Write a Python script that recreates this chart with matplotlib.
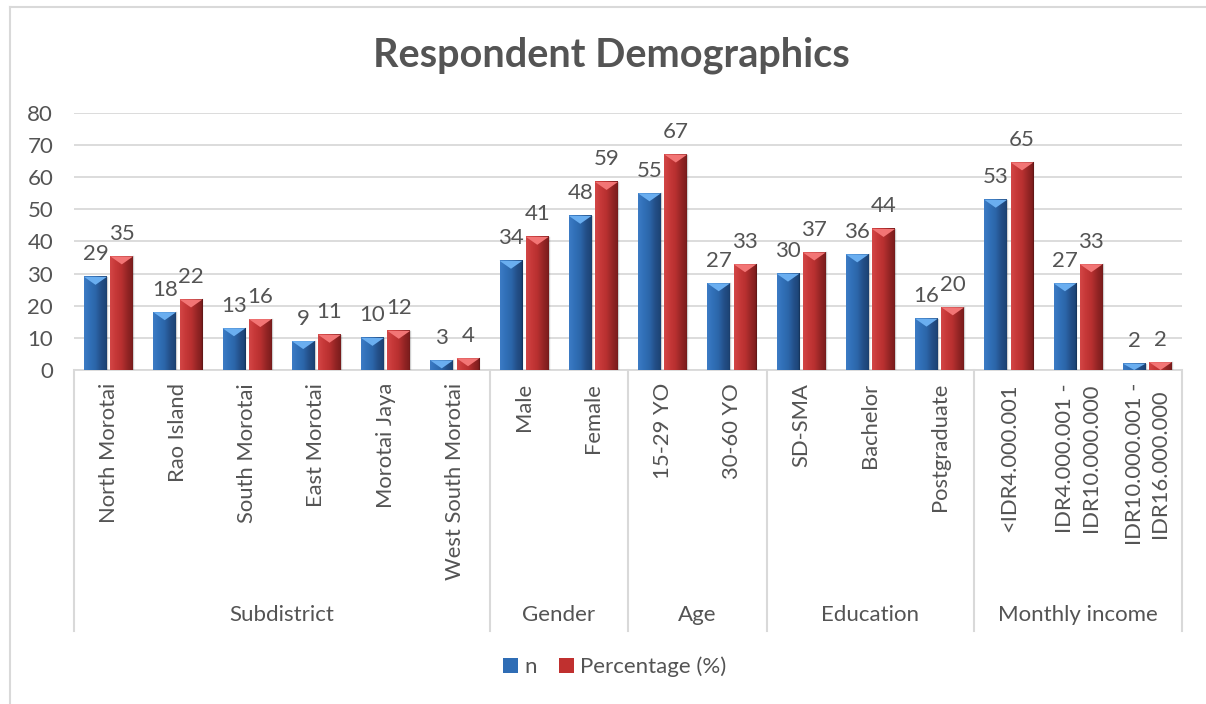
import matplotlib
matplotlib.use('Agg')
import matplotlib.pyplot as plt
from matplotlib.colors import LinearSegmentedColormap
from matplotlib.patches import Patch, Polygon
from matplotlib.lines import Line2D
import matplotlib.transforms as mtransforms
import numpy as np

# ---------------- data ----------------
categories = ["North Morotai", "Rao Island", "South Morotai", "East Morotai",
              "Morotai Jaya", "West South Morotai",
              "Male", "Female",
              "15-29 YO", "30-60 YO",
              "SD-SMA", "Bachelor", "Postgraduate",
              "<IDR4.000.001", "IDR4.000.001 -\nIDR10.000.000",
              "IDR10.000.001 -\nIDR16.000.000"]
groups = ["Subdistrict", "Gender", "Age", "Education", "Monthly income"]
group_sizes = [6, 2, 2, 3, 3]
n_values = [29, 18, 13, 9, 10, 3, 34, 48, 55, 27, 30, 36, 16, 53, 27, 2]
pct_values = [35.37, 21.95, 15.85, 10.98, 12.20, 3.66, 41.46, 58.54,
              67.07, 32.93, 36.59, 43.90, 19.51, 64.63, 32.93, 2.44]
series_names = ["n", "Percentage (%)"]
y_ticks = [0, 10, 20, 30, 40, 50, 60, 70, 80]
title = "Respondent Demographics"

# ---------------- style ----------------
FONT = "Lato"
TXT = "#545454"
GRID = "#D9D9D9"
blue_cmap = LinearSegmentedColormap.from_list(
    "b", ["#3c7bc4", "#3170b8", "#2c66a9", "#234f88", "#1c4273"])
red_cmap = LinearSegmentedColormap.from_list(
    "r", ["#d24646", "#c63838", "#b83030", "#952525", "#7a1c1c"])
blue_top = "#6aaef0"
red_top = "#f27575"
blue_main = "#2f6db5"
red_main = "#c0302f"

plt.rcParams['font.family'] = [FONT, 'DejaVu Sans']

W, H = 1206, 704
fig = plt.figure(figsize=(W / 100, H / 100), dpi=100)
fig.patch.set_facecolor("white")

left_px, right_px, top_px, bot_px = 74, 1182, 113, 370
ax = fig.add_axes([left_px / W, 1 - bot_px / H,
                   (right_px - left_px) / W, (bot_px - top_px) / H])

x = np.arange(len(categories))
width = 0.33
off = 0.19
bars1 = ax.bar(x - off, n_values, width=width, color=blue_main, zorder=3)
bars2 = ax.bar(x + off, pct_values, width=width, color=red_main, zorder=3)

ax.set_xlim(-0.5, len(categories) - 0.5)
ax.set_ylim(0, 80)
ax.set_yticks(y_ticks)
ax.yaxis.grid(True, color=GRID, linewidth=1.3, zorder=0)
ax.set_axisbelow(True)
ax.set_xticks([])
ax.tick_params(axis='y', length=0, pad=15, labelsize=16, labelcolor=TXT)
for s in ["left", "right", "top"]:
    ax.spines[s].set_visible(False)
ax.spines["bottom"].set_color(GRID)
ax.spines["bottom"].set_linewidth(1.3)

# gradient + bevel for bars
data_per_px = 80 / (bot_px - top_px)
bevel = 8 * data_per_px
grad = np.linspace(0, 1, 64).reshape(1, -1)
for bars, cmap, topc in ((bars1, blue_cmap, blue_top), (bars2, red_cmap, red_top)):
    for b in bars:
        bx, bw, bh = b.get_x(), b.get_width(), b.get_height()
        ax.imshow(grad, extent=[bx, bx + bw, 0, bh], aspect='auto',
                  cmap=cmap, zorder=3.5, interpolation='bilinear')
        d = min(bevel, bh)
        tri = Polygon([[bx, bh], [bx + bw, bh], [bx + bw / 2, bh - d]],
                      closed=True, facecolor=topc, edgecolor='none', zorder=4)
        ax.add_patch(tri)
        ax.add_line(Line2D([bx + bw, bx + bw], [0, bh], color='#00000030',
                           linewidth=1, zorder=4))
ax.set_xlim(-0.5, len(categories) - 0.5)
ax.set_ylim(0, 80)

# data labels
for bars, vals in ((bars1, n_values), (bars2, pct_values)):
    for b, v in zip(bars, vals):
        ax.annotate(f"{v:.0f}", (b.get_x() + b.get_width() / 2, b.get_height()),
                    xytext=(0, 9), textcoords='offset points',
                    ha='center', va='bottom', fontsize=16, color=TXT, zorder=5)

# category labels
trans = mtransforms.blended_transform_factory(ax.transData, fig.transFigure)
for i, c in enumerate(categories):
    ax.text(i, 1 - 383 / H, c, rotation=90, ha='center', va='top',
            fontsize=15.8, color=TXT, transform=trans, multialignment='center',
            linespacing=1.35)

# group labels and separators
start = 0
bounds = [-0.5]
for g, sz in zip(groups, group_sizes):
    center = start + (sz - 1) / 2
    ax.text(center, 1 - 615 / H, g, ha='center', va='center', fontsize=16,
            color=TXT, transform=trans)
    start += sz
    bounds.append(start - 0.5)
for bnd in bounds:
    ax.add_line(Line2D([bnd, bnd], [1 - bot_px / H, 1 - 631 / H], color=GRID,
                       linewidth=1.5, transform=trans, clip_on=False))

# title
fig.text(611 / W, 1 - 55 / H, title, ha='center', va='center', fontsize=28.5,
         fontweight='bold', color=TXT)

# legend
handles = [Patch(facecolor=blue_main, edgecolor='none'),
           Patch(facecolor=red_main, edgecolor='none')]
leg = fig.legend(handles, series_names, loc='center', bbox_to_anchor=(615 / W, 1 - 667 / H),
                 ncol=2, frameon=False, fontsize=16, handlelength=0.65, handleheight=0.65,
                 handletextpad=0.3, columnspacing=1.0)
for t in leg.get_texts():
    t.set_color(TXT)

# chart border (top and left visible)
fig.add_artist(Line2D([10 / W, 1.0], [1 - 7 / H, 1 - 7 / H], color=GRID, linewidth=1.5,
                      transform=fig.transFigure))
fig.add_artist(Line2D([10 / W, 10 / W], [1 - 7 / H, 0.0], color=GRID, linewidth=1.5,
                      transform=fig.transFigure))

fig.savefig("out.png", dpi=100, facecolor="white")
